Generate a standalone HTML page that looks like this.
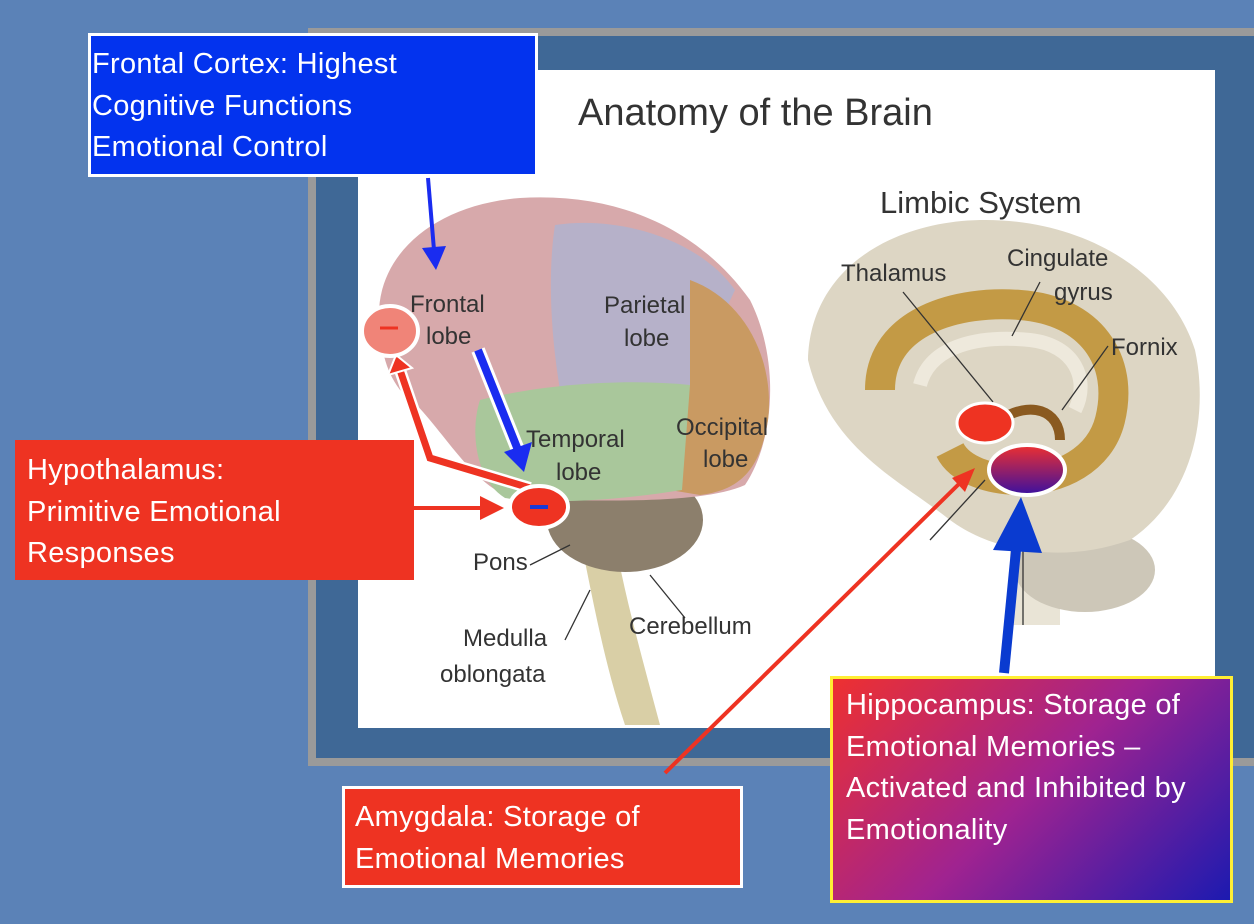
<!DOCTYPE html>
<html><head><meta charset="utf-8"><style>
body{margin:0;width:1254px;height:924px;overflow:hidden;background:#5b82b7;position:relative;font-family:"Liberation Sans",sans-serif}
.box{position:absolute;color:#fff;font-size:29px;line-height:41.5px;padding-left:0;box-sizing:border-box;white-space:nowrap;letter-spacing:0.3px}
</style></head><body>
<div style="position:absolute;left:308px;top:28px;width:946px;height:738px;background:#9a9a9a"></div>
<div style="position:absolute;left:316px;top:36px;width:938px;height:722px;background:#3f6896"></div>
<div style="position:absolute;left:358px;top:70px;width:857px;height:658px;background:#fff"></div>
<svg width="1254" height="924" style="position:absolute;left:0;top:0">
<defs>
<linearGradient id="g1" x1="0" y1="0" x2="0" y2="1"><stop offset="0" stop-color="#ee3030"/><stop offset="1" stop-color="#3a10a0"/></linearGradient>
</defs>
<!-- left brain -->
<path d="M575,515 C590,580 600,650 625,725 L660,725 C640,650 620,580 610,510 Z" fill="#d9cfa6"/>
<ellipse cx="625" cy="520" rx="78" ry="52" fill="#8c7f6c"/>
<path d="M380,330 C370,260 430,205 520,198 C620,192 700,230 750,300 C780,360 775,440 745,485 C700,505 600,500 520,500 C470,490 440,420 400,390 C385,370 382,350 380,330 Z" fill="#d7a9ab"/>
<path d="M555,225 C620,215 700,240 735,290 L690,385 L560,390 C550,330 548,270 555,225 Z" fill="#b6b1c9"/>
<path d="M690,280 C745,300 775,360 768,420 C760,470 740,490 700,495 L670,490 L690,385 Z" fill="#c99a62"/>
<path d="M480,400 C540,385 620,378 690,385 L682,490 C620,500 550,505 505,498 C475,480 470,430 480,400 Z" fill="#a9c79b"/>
<!-- right brain -->
<path d="M1010,550 L1010,625 L1060,625 L1060,550 Z" fill="#e9e4d6"/>
<ellipse cx="1085" cy="570" rx="70" ry="42" fill="#cdc7b8"/>
<path d="M808,360 C810,270 890,222 980,220 C1080,218 1170,270 1195,350 C1210,420 1190,500 1130,540 C1060,565 990,550 950,520 C900,480 830,450 808,360 Z" fill="#ddd6c4"/>
<path d="M880,390 C880,320 960,300 1020,305 C1090,310 1125,360 1110,420 C1100,460 1060,480 1020,480 C990,480 960,470 950,450" fill="none" stroke="#c39a45" stroke-width="30"/>
<path d="M920,385 C930,345 980,335 1030,340 C1075,345 1090,380 1075,410" fill="none" stroke="#eee9dc" stroke-width="14"/>
<path d="M1000,420 C1030,400 1060,410 1060,440" fill="none" stroke="#8a5a20" stroke-width="10"/>
<g stroke="#333" stroke-width="1.3" fill="none">
<line x1="903" y1="292" x2="993" y2="402"/><line x1="1040" y1="282" x2="1012" y2="336"/><line x1="1108" y1="346" x2="1062" y2="410"/><line x1="930" y1="540" x2="985" y2="480"/><line x1="1023" y1="510" x2="1023" y2="625"/>
<line x1="530" y1="565" x2="570" y2="545"/><line x1="565" y1="640" x2="590" y2="590"/><line x1="685" y1="618" x2="650" y2="575"/>
</g>
<g fill="#333" font-family="Liberation Sans,sans-serif">
<text x="578" y="125" font-size="38">Anatomy of the Brain</text>
<text x="880" y="213" font-size="31">Limbic System</text>
<g font-size="24">
<text x="410" y="312">Frontal</text><text x="426" y="344">lobe</text>
<text x="604" y="313">Parietal</text><text x="624" y="346">lobe</text>
<text x="526" y="447">Temporal</text><text x="556" y="480">lobe</text>
<text x="676" y="435">Occipital</text><text x="703" y="467">lobe</text>
<text x="473" y="570">Pons</text>
<text x="463" y="646">Medulla</text><text x="440" y="682">oblongata</text>
<text x="629" y="634">Cerebellum</text>
<text x="841" y="281">Thalamus</text>
<text x="1007" y="266">Cingulate</text><text x="1054" y="300">gyrus</text>
<text x="1111" y="355">Fornix</text>
</g></g>
<!-- arrows -->
<line x1="428" y1="178" x2="434" y2="250" stroke="#1a2cf0" stroke-width="4"/>
<polygon points="422,248 446,246 436,270" fill="#1a2cf0"/>
<path d="M530,488 L430,458 L400,370" fill="none" stroke="#fff" stroke-width="12"/>
<path d="M530,488 L430,458 L400,370" fill="none" stroke="#ee3322" stroke-width="7"/>
<polygon points="388,375 412,368 396,355" fill="#ee3322" stroke="#fff" stroke-width="2"/>
<line x1="478" y1="350" x2="518" y2="450" stroke="#fff" stroke-width="14"/>
<line x1="478" y1="350" x2="518" y2="450" stroke="#1a2cf0" stroke-width="8"/>
<polygon points="504,452 532,442 524,472" fill="#1a2cf0"/>
<line x1="413" y1="508" x2="485" y2="508" stroke="#ee3322" stroke-width="4"/>
<polygon points="480,496 504,508 480,520" fill="#ee3322"/>
<line x1="665" y1="773" x2="965" y2="478" stroke="#ee3322" stroke-width="4"/>
<polygon points="952,478 975,468 965,492" fill="#ee3322"/>
<line x1="1004" y1="673" x2="1017" y2="540" stroke="#0a3bd0" stroke-width="10"/>
<polygon points="993,550 1042,553 1021,497" fill="#0a3bd0"/>
<!-- ellipses -->
<ellipse cx="390" cy="331" rx="28" ry="25" fill="#f08478" stroke="#fff" stroke-width="4"/>
<line x1="380" y1="328" x2="398" y2="328" stroke="#ee3322" stroke-width="3"/>
<ellipse cx="539" cy="507" rx="29" ry="21" fill="#ee3322" stroke="#fff" stroke-width="4"/>
<line x1="530" y1="507" x2="548" y2="507" stroke="#1a3ad8" stroke-width="4"/>
<ellipse cx="985" cy="423" rx="28" ry="20" fill="#ee3322" stroke="#fff" stroke-width="3"/>
<ellipse cx="1027" cy="470" rx="38" ry="25" fill="url(#g1)" stroke="#fff" stroke-width="4"/>
</svg>
<div class="box" style="left:88px;top:33px;width:450px;height:144px;background:#0333ee;border:3px solid #fff;padding:8px 0 0 1px">Frontal Cortex: Highest<br>Cognitive Functions<br>Emotional Control</div>
<div class="box" style="left:15px;top:440px;width:399px;height:140px;background:#ee3322;padding:10px 0 0 12px">Hypothalamus:<br>Primitive Emotional<br>Responses</div>
<div class="box" style="left:342px;top:786px;width:401px;height:102px;background:#ee3322;border:3px solid #fff;padding:8px 0 0 10px">Amygdala: Storage of<br>Emotional Memories</div>
<div class="box" style="left:830px;top:676px;width:403px;height:227px;background:linear-gradient(135deg,#ee3030 0%,#a02390 50%,#1c1ab0 100%);border:3px solid #ffee33;padding:6px 0 0 13px">Hippocampus: Storage of<br>Emotional Memories –<br>Activated and Inhibited by<br>Emotionality</div>
</body></html>
